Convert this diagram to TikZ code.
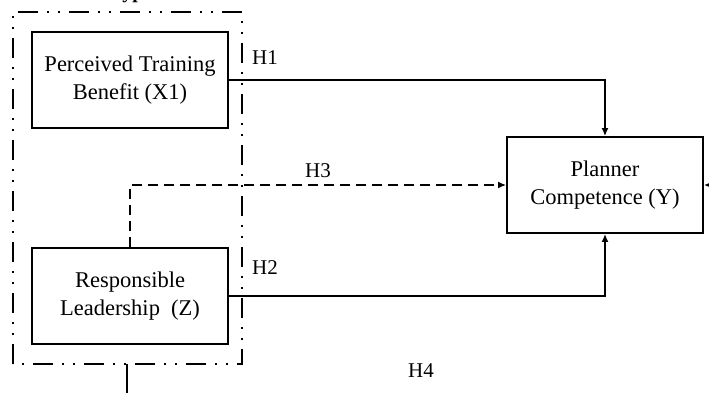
\documentclass[tikz,border=0pt]{standalone}
\usepackage{fontspec}
\setmainfont{Liberation Serif}
\usetikzlibrary{arrows.meta}
\begin{document}
\begin{tikzpicture}[x=1pt,y=-1pt,
  box/.style={draw,line width=1.8pt,minimum width=196pt,minimum height=96pt,align=center,font=\fontsize{22.5}{28}\selectfont,inner sep=0pt},
  lbl/.style={font=\fontsize{21}{24}\selectfont,inner sep=0pt},
  conn/.style={line width=1.8pt,-{Latex[length=8pt,width=7pt]}},
  dconn/.style={line width=1.6pt,dash pattern=on 10pt off 6pt,-{Latex[length=8pt,width=7pt]}},
  groupline/.style={line width=2pt,dash pattern=on 20pt off 9pt on 2pt off 9pt on 2pt off 9pt}]
\useasboundingbox (0,0) rectangle (709,392);
\fill[white] (0,0) rectangle (709,392);
% group frame
\draw[groupline] (13,364) -- (13,12) -- (242,12) -- (242,364) -- cycle;
\coordinate (frameb) at (127,364);
\coordinate (stub) at (127,400);
\draw[line width=1.8pt] (frameb) -- (stub);
% cut-off title
\node[font=\bfseries\fontsize{20}{24}\selectfont,anchor=base,inner sep=0pt] (title) at (133,-2) {yp};
% boxes
\node[box] (x1) at (130,80) {Perceived Training\\Benefit (X1)};
\node[box] (z) at (130,296) {Responsible\\Leadership\ \ (Z)};
\node[box] (y) at (605,185) {Planner\\Competence (Y)};
% connectors
\draw[conn] (x1.east) -| (y.north);
\draw[conn] (z.east) -| (y.south);
\draw[dconn] (z.north) |- (y.west);
\coordinate (ext) at (740,185);
\draw[conn] (ext) -- (y.east);
% labels
\node[lbl] (h1) at (265,58) {H1};
\node[lbl] (h2) at (265,268) {H2};
\node[lbl] (h3) at (318,171) {H3};
\node[lbl] (h4) at (421,371) {H4};
\end{tikzpicture}
\end{document}
